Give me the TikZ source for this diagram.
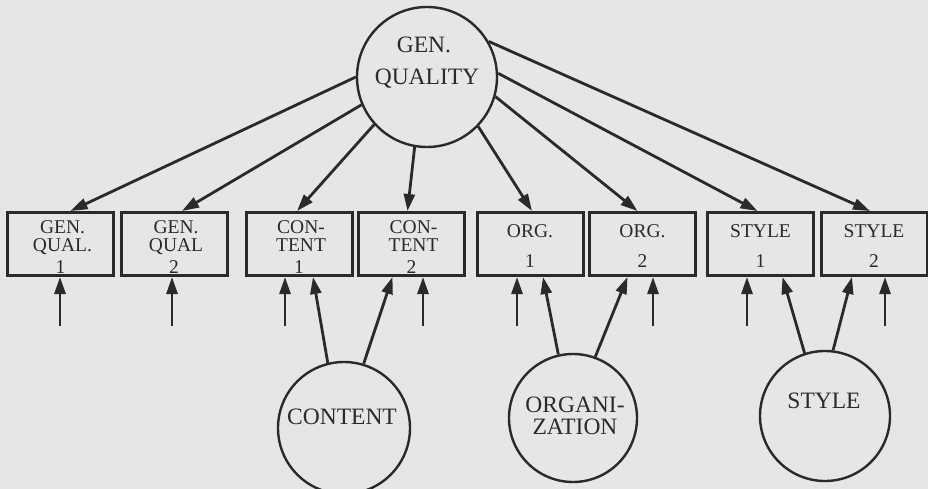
\documentclass[tikz,border=0pt]{standalone}
\usepackage{fontspec}
\setmainfont{Liberation Serif}
\usetikzlibrary{arrows.meta}
\definecolor{paper}{HTML}{E6E6E4}
\definecolor{ink}{HTML}{2A2A2A}
\begin{document}
\begin{tikzpicture}[x=1pt,y=-1pt,
  box/.style={draw=ink, line width=3pt, minimum width=106pt, minimum height=63pt, inner sep=0pt},
  lat/.style={draw=ink, line width=2.4pt, circle, inner sep=0pt},
  txt/.style={anchor=base, inner sep=0pt, text=ink, font=\fontsize{19.5}{19.5}\selectfont},
  bigtxt/.style={anchor=base, inner sep=0pt, text=ink, font=\fontsize{23.5}{23.5}\selectfont},
  arr/.style={draw=ink, line width=2.8pt, -{Triangle[length=17pt,width=11pt]}}]
\fill[paper] (0,0) rectangle (928,489);
\useasboundingbox (0,0) rectangle (928,489);
\clip (0,0) rectangle (928,489);

% boxes with three lines
\foreach \i/\x/\a/\b/\n in {1/60.5/GEN./QUAL./1, 2/174/GEN./QUAL/2, 3/299/CON-/TENT/1, 4/411.5/CON-/TENT/2}{
  \node[box] (b\i) at (\x,244) {};
  \node[txt] (b\i a) at (\x+2,233) {\a};
  \node[txt] (b\i b) at (\x+2,251) {\b};
  \node[txt] (b\i n) at (\x,273) {\n};
}
% boxes with two lines
\foreach \i/\x/\a/\n in {5/530/ORG./1, 6/642.5/ORG./2, 7/760.5/STYLE/1, 8/874/STYLE/2}{
  \node[box] (b\i) at (\x,244) {};
  \node[txt] (b\i a) at (\x,237) {\a};
  \node[txt] (b\i n) at (\x,267) {\n};
}

% general factor
\node[lat, minimum size=140pt] (gq) at (427,77) {};
\node[bigtxt] (gqa) at (424,53) {GEN.};
\node[bigtxt] (gqb) at (427,85) {QUALITY};

% specific factors
\node[lat, minimum size=132pt] (ct) at (344,428) {};
\node[bigtxt] (cta) at (342,424) {CONTENT};
\node[lat, minimum size=128pt] (og) at (573,418) {};
\node[bigtxt] (oga) at (575,412) {ORGANI-};
\node[bigtxt] (ogb) at (575,434) {ZATION};
\node[lat, minimum size=130pt] (st) at (825,416) {};
\node[bigtxt] (sta) at (824,408) {STYLE};

% loadings of general factor
\draw[arr] (gq.180) -- ([xshift=10pt]b1.north);
\draw[arr] (gq.203) -- ([xshift=8pt]b2.north);
\draw[arr] (gq.222) -- ([xshift=-2pt]b3.north);
\draw[arr] (gq.260) -- ([xshift=-4pt]b4.north);
\draw[arr] (gq.316) -- ([xshift=2pt]b5.north);
\draw[arr] (gq.344) -- ([xshift=-5pt]b6.north);
\draw[arr] (gq.3)   -- ([xshift=-3pt]b7.north);
\draw[arr] (gq.30)  -- ([xshift=-4pt]b8.north);

% loadings of specific factors
\draw[arr] (ct.104) -- ([xshift=14pt]b3.south);
\draw[arr] (ct.73)  -- ([xshift=-19pt]b4.south);
\draw[arr] (og.103) -- ([xshift=13pt]b5.south);
\draw[arr] (og.70)  -- ([xshift=-15pt]b6.south);
\draw[arr] (st.108) -- ([xshift=22pt]b7.south);
\draw[arr] (st.83)  -- ([xshift=-22pt]b8.south);

% error terms
\foreach \i/\x in {1/60, 2/172, 3/285, 4/423, 5/517, 6/653, 7/747, 8/885}{
  \coordinate (e\i) at (\x,326);
  \draw[arr] (e\i) -- (e\i |- b\i.south);
}
\end{tikzpicture}
\end{document}
